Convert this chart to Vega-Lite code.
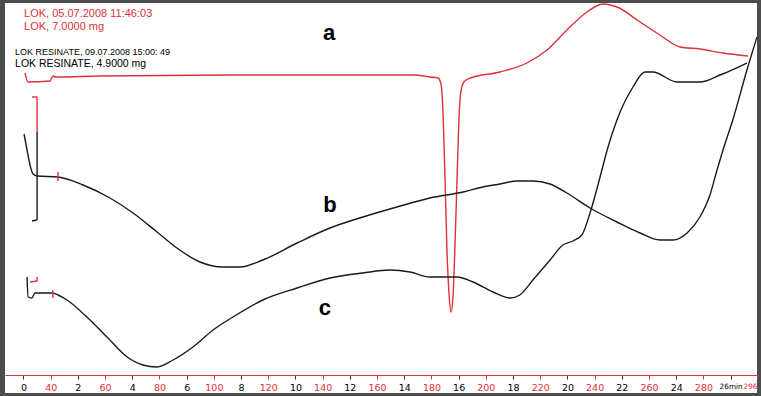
{
  "$schema": "https://vega.github.io/schema/vega-lite/v6.json",
  "width": 752,
  "height": 390,
  "autosize": {"type": "none"},
  "padding": {"left": 5, "top": 3, "right": 4, "bottom": 3},
  "background": "#4d4d4d",
  "config": {"view": {"fill": "white", "stroke": null}, "axis": {"labelOverlap": false}},
  "datasets": {
    "curves": [
      {"seg": "a", "kind": "red", "t": 0.055, "v": 320},
      {"seg": "a", "kind": "red", "t": 0.165, "v": 311},
      {"seg": "a", "kind": "red", "t": 0.974, "v": 312},
      {"seg": "a", "kind": "red", "t": 1.085, "v": 317},
      {"seg": "a", "kind": "red", "t": 1.195, "v": 316},
      {"seg": "a", "kind": "red", "t": 2.81, "v": 317},
      {"seg": "a", "kind": "red", "t": 8.33, "v": 318},
      {"seg": "a", "kind": "red", "t": 14.39, "v": 318},
      {"seg": "a", "kind": "red", "t": 14.94, "v": 316},
      {"seg": "a", "kind": "red", "t": 15.24, "v": 315},
      {"seg": "a", "kind": "red", "t": 15.35, "v": 309},
      {"seg": "a", "kind": "red", "t": 15.42, "v": 283},
      {"seg": "a", "kind": "red", "t": 15.50, "v": 213},
      {"seg": "a", "kind": "red", "t": 15.57, "v": 143},
      {"seg": "a", "kind": "red", "t": 15.65, "v": 98},
      {"seg": "a", "kind": "red", "t": 15.72, "v": 81},
      {"seg": "a", "kind": "red", "t": 15.79, "v": 95},
      {"seg": "a", "kind": "red", "t": 15.86, "v": 143},
      {"seg": "a", "kind": "red", "t": 15.94, "v": 213},
      {"seg": "a", "kind": "red", "t": 16.01, "v": 273},
      {"seg": "a", "kind": "red", "t": 16.08, "v": 301},
      {"seg": "a", "kind": "red", "t": 16.19, "v": 311},
      {"seg": "a", "kind": "red", "t": 16.42, "v": 315},
      {"seg": "a", "kind": "red", "t": 17.52, "v": 321},
      {"seg": "a", "kind": "red", "t": 18.51, "v": 330},
      {"seg": "a", "kind": "red", "t": 19.25, "v": 343},
      {"seg": "a", "kind": "red", "t": 19.98, "v": 363},
      {"seg": "a", "kind": "red", "t": 20.72, "v": 381},
      {"seg": "a", "kind": "red", "t": 21.30, "v": 389},
      {"seg": "a", "kind": "red", "t": 21.82, "v": 386},
      {"seg": "a", "kind": "red", "t": 22.67, "v": 371},
      {"seg": "a", "kind": "red", "t": 23.40, "v": 358},
      {"seg": "a", "kind": "red", "t": 24.14, "v": 346},
      {"seg": "a", "kind": "red", "t": 24.87, "v": 344},
      {"seg": "a", "kind": "red", "t": 25.72, "v": 340},
      {"seg": "a", "kind": "red", "t": 26.64, "v": 337},

      {"seg": "b", "kind": "black", "t": 0.02, "v": 259},
      {"seg": "b", "kind": "black", "t": 0.13, "v": 243},
      {"seg": "b", "kind": "black", "t": 0.24, "v": 228},
      {"seg": "b", "kind": "black", "t": 0.35, "v": 219},
      {"seg": "b", "kind": "black", "t": 0.50, "v": 217},
      {"seg": "b", "kind": "black", "t": 1.27, "v": 216},
      {"seg": "b", "kind": "black", "t": 2.19, "v": 208},
      {"seg": "b", "kind": "black", "t": 3.18, "v": 195},
      {"seg": "b", "kind": "black", "t": 4.03, "v": 180},
      {"seg": "b", "kind": "black", "t": 4.91, "v": 161},
      {"seg": "b", "kind": "black", "t": 5.64, "v": 145},
      {"seg": "b", "kind": "black", "t": 6.49, "v": 131},
      {"seg": "b", "kind": "black", "t": 7.33, "v": 126},
      {"seg": "b", "kind": "black", "t": 7.96, "v": 126},
      {"seg": "b", "kind": "black", "t": 8.80, "v": 133},
      {"seg": "b", "kind": "black", "t": 10.06, "v": 150},
      {"seg": "b", "kind": "black", "t": 11.27, "v": 165},
      {"seg": "b", "kind": "black", "t": 12.48, "v": 176},
      {"seg": "b", "kind": "black", "t": 13.73, "v": 186},
      {"seg": "b", "kind": "black", "t": 14.94, "v": 195},
      {"seg": "b", "kind": "black", "t": 16.16, "v": 201},
      {"seg": "b", "kind": "black", "t": 16.89, "v": 206},
      {"seg": "b", "kind": "black", "t": 17.52, "v": 209},
      {"seg": "b", "kind": "black", "t": 18.14, "v": 212},
      {"seg": "b", "kind": "black", "t": 18.73, "v": 212},
      {"seg": "b", "kind": "black", "t": 19.36, "v": 209},
      {"seg": "b", "kind": "black", "t": 19.98, "v": 200},
      {"seg": "b", "kind": "black", "t": 20.83, "v": 185},
      {"seg": "b", "kind": "black", "t": 21.82, "v": 171},
      {"seg": "b", "kind": "black", "t": 22.67, "v": 160},
      {"seg": "b", "kind": "black", "t": 23.40, "v": 153},
      {"seg": "b", "kind": "black", "t": 23.88, "v": 153},
      {"seg": "b", "kind": "black", "t": 24.40, "v": 160},
      {"seg": "b", "kind": "black", "t": 24.87, "v": 176},
      {"seg": "b", "kind": "black", "t": 25.24, "v": 198},
      {"seg": "b", "kind": "black", "t": 25.50, "v": 223},
      {"seg": "b", "kind": "black", "t": 25.72, "v": 243},
      {"seg": "b", "kind": "black", "t": 26.08, "v": 273},
      {"seg": "b", "kind": "black", "t": 26.60, "v": 323},
      {"seg": "b", "kind": "black", "t": 26.97, "v": 356},

      {"seg": "c", "kind": "black", "t": 0.13, "v": 116},
      {"seg": "c", "kind": "black", "t": 0.17, "v": 96},
      {"seg": "c", "kind": "black", "t": 0.31, "v": 95},
      {"seg": "c", "kind": "black", "t": 0.42, "v": 100},
      {"seg": "c", "kind": "black", "t": 1.05, "v": 100},
      {"seg": "c", "kind": "black", "t": 1.27, "v": 98},
      {"seg": "c", "kind": "black", "t": 1.60, "v": 93},
      {"seg": "c", "kind": "black", "t": 2.33, "v": 76},
      {"seg": "c", "kind": "black", "t": 3.07, "v": 56},
      {"seg": "c", "kind": "black", "t": 3.81, "v": 36},
      {"seg": "c", "kind": "black", "t": 4.39, "v": 28},
      {"seg": "c", "kind": "black", "t": 4.91, "v": 26},
      {"seg": "c", "kind": "black", "t": 5.50, "v": 33},
      {"seg": "c", "kind": "black", "t": 6.23, "v": 46},
      {"seg": "c", "kind": "black", "t": 6.97, "v": 63},
      {"seg": "c", "kind": "black", "t": 7.70, "v": 76},
      {"seg": "c", "kind": "black", "t": 8.80, "v": 93},
      {"seg": "c", "kind": "black", "t": 10.06, "v": 105},
      {"seg": "c", "kind": "black", "t": 11.27, "v": 115},
      {"seg": "c", "kind": "black", "t": 12.48, "v": 120},
      {"seg": "c", "kind": "black", "t": 13.47, "v": 123},
      {"seg": "c", "kind": "black", "t": 14.21, "v": 121},
      {"seg": "c", "kind": "black", "t": 14.94, "v": 116},
      {"seg": "c", "kind": "black", "t": 15.94, "v": 116},
      {"seg": "c", "kind": "black", "t": 16.53, "v": 111},
      {"seg": "c", "kind": "black", "t": 17.26, "v": 101},
      {"seg": "c", "kind": "black", "t": 17.89, "v": 95},
      {"seg": "c", "kind": "black", "t": 18.25, "v": 98},
      {"seg": "c", "kind": "black", "t": 18.73, "v": 113},
      {"seg": "c", "kind": "black", "t": 19.36, "v": 133},
      {"seg": "c", "kind": "black", "t": 19.83, "v": 148},
      {"seg": "c", "kind": "black", "t": 20.20, "v": 152},
      {"seg": "c", "kind": "black", "t": 20.53, "v": 158},
      {"seg": "c", "kind": "black", "t": 20.83, "v": 180},
      {"seg": "c", "kind": "black", "t": 21.20, "v": 216},
      {"seg": "c", "kind": "black", "t": 21.46, "v": 243},
      {"seg": "c", "kind": "black", "t": 21.82, "v": 273},
      {"seg": "c", "kind": "black", "t": 22.41, "v": 306},
      {"seg": "c", "kind": "black", "t": 22.85, "v": 321},
      {"seg": "c", "kind": "black", "t": 23.14, "v": 321},
      {"seg": "c", "kind": "black", "t": 24.03, "v": 311},
      {"seg": "c", "kind": "black", "t": 24.87, "v": 311},
      {"seg": "c", "kind": "black", "t": 25.61, "v": 318},
      {"seg": "c", "kind": "black", "t": 26.60, "v": 330},

      {"seg": "b marker", "kind": "black", "t": 0.50, "v": 261},
      {"seg": "b marker", "kind": "black", "t": 0.50, "v": 173},
      {"seg": "b marker foot", "kind": "black", "t": 0.31, "v": 172},
      {"seg": "b marker foot", "kind": "black", "t": 0.50, "v": 173},
      {"seg": "b marker top", "kind": "red", "t": 0.50, "v": 296},
      {"seg": "b marker top", "kind": "red", "t": 0.50, "v": 261},
      {"seg": "b marker hook", "kind": "red", "t": 0.31, "v": 296},
      {"seg": "b marker hook", "kind": "red", "t": 0.50, "v": 296},
      {"seg": "b tick", "kind": "red", "t": 1.27, "v": 221},
      {"seg": "b tick", "kind": "red", "t": 1.27, "v": 212},
      {"seg": "c tick", "kind": "red", "t": 1.08, "v": 103},
      {"seg": "c tick", "kind": "red", "t": 1.08, "v": 95},
      {"seg": "c start", "kind": "red", "t": 0.24, "v": 111},
      {"seg": "c start", "kind": "red", "t": 0.50, "v": 112},
      {"seg": "c start end", "kind": "red", "t": 0.50, "v": 112},
      {"seg": "c start end", "kind": "red", "t": 0.50, "v": 116}
    ],
    "redHeader": [
      {"text": "LOK, 05.07.2008 11:46:03", "t": 0.02, "v": 379},
      {"text": "LOK, 7.0000 mg", "t": 0.02, "v": 366}
    ],
    "blackHeader1": [
      {"text": "LOK RESINATE, 09.07.2008 15:00: 49", "t": -0.31, "v": 341}
    ],
    "blackHeader2": [
      {"text": "LOK RESINATE, 4.9000 mg", "t": -0.31, "v": 329}
    ],
    "letters": [
      {"text": "a", "t": 11.24, "v": 360},
      {"text": "b", "t": 11.27, "v": 188},
      {"text": "c", "t": 11.08, "v": 85}
    ]
  },
  "layer": [
    {
      "data": {"name": "curves"},
      "mark": {"type": "line", "strokeWidth": 1.4, "interpolate": "monotone"},
      "encoding": {
        "x": {
          "field": "t", "type": "quantitative",
          "scale": {"domain": [-0.68, 26.97], "nice": false, "zero": false},
          "axis": {
            "values": [0,1,2,3,4,5,6,7,8,9,10,11,12,13,14,15,16,17,18,19,20,21,22,23,24,25,26,26.97],
            "tickCount": 60,
            "title": null,
            "grid": false,
            "offset": -18,
            "domainColor": "#e0303a",
            "domainWidth": 1.2,
            "tickSize": 4,
            "tickWidth": 1,
            "tickColor": {"condition": {"test": "datum.value % 2 == 1 || datum.value > 26.5", "value": "#e0303a"}, "value": "#333333"},
            "labelExpr": "datum.value > 26.5 ? '296' : datum.value == 26 ? '26min' : datum.value % 2 == 0 ? '' + datum.value : '' + (30 + 10 * datum.value)",
            "labelColor": {"condition": {"test": "datum.value % 2 == 1 || datum.value > 26.5", "value": "#e0303a"}, "value": "#000000"},
            "labelAlign": {"condition": {"test": "datum.value > 26.5", "value": "right"}, "value": "center"},
            "labelFontSize": {"condition": {"test": "datum.value > 25.5", "value": 7.3}, "value": 9.5},
            "labelFont": "DejaVu Sans",
            "labelPadding": 3,
            "labelOverlap": false,
            "labelFlush": false,
            "labelBound": false
          }
        },
        "y": {
          "field": "v", "type": "quantitative",
          "scale": {"domain": [0, 390], "nice": false, "zero": false},
          "axis": null
        },
        "color": {
          "field": "kind", "type": "nominal",
          "scale": {"domain": ["red", "black"], "range": ["#e0303a", "#1a1a1a"]},
          "legend": null
        },
        "detail": {"field": "seg", "type": "nominal"}
      }
    },
    {
      "data": {"name": "redHeader"},
      "mark": {"type": "text", "align": "left", "baseline": "middle", "font": "Liberation Sans", "fontSize": 11, "color": "#e0303a"},
      "encoding": {
        "x": {"field": "t", "type": "quantitative"},
        "y": {"field": "v", "type": "quantitative"},
        "text": {"field": "text"}
      }
    },
    {
      "data": {"name": "blackHeader1"},
      "mark": {"type": "text", "align": "left", "baseline": "middle", "font": "Liberation Sans", "fontSize": 9, "color": "#000000"},
      "encoding": {
        "x": {"field": "t", "type": "quantitative"},
        "y": {"field": "v", "type": "quantitative"},
        "text": {"field": "text"}
      }
    },
    {
      "data": {"name": "blackHeader2"},
      "mark": {"type": "text", "align": "left", "baseline": "middle", "font": "Liberation Sans", "fontSize": 10.5, "color": "#000000"},
      "encoding": {
        "x": {"field": "t", "type": "quantitative"},
        "y": {"field": "v", "type": "quantitative"},
        "text": {"field": "text"}
      }
    },
    {
      "data": {"name": "letters"},
      "mark": {"type": "text", "align": "center", "baseline": "middle", "font": "Liberation Sans", "fontWeight": "bold", "fontSize": 22, "color": "#000000"},
      "encoding": {
        "x": {"field": "t", "type": "quantitative"},
        "y": {"field": "v", "type": "quantitative"},
        "text": {"field": "text"}
      }
    }
  ]
}
